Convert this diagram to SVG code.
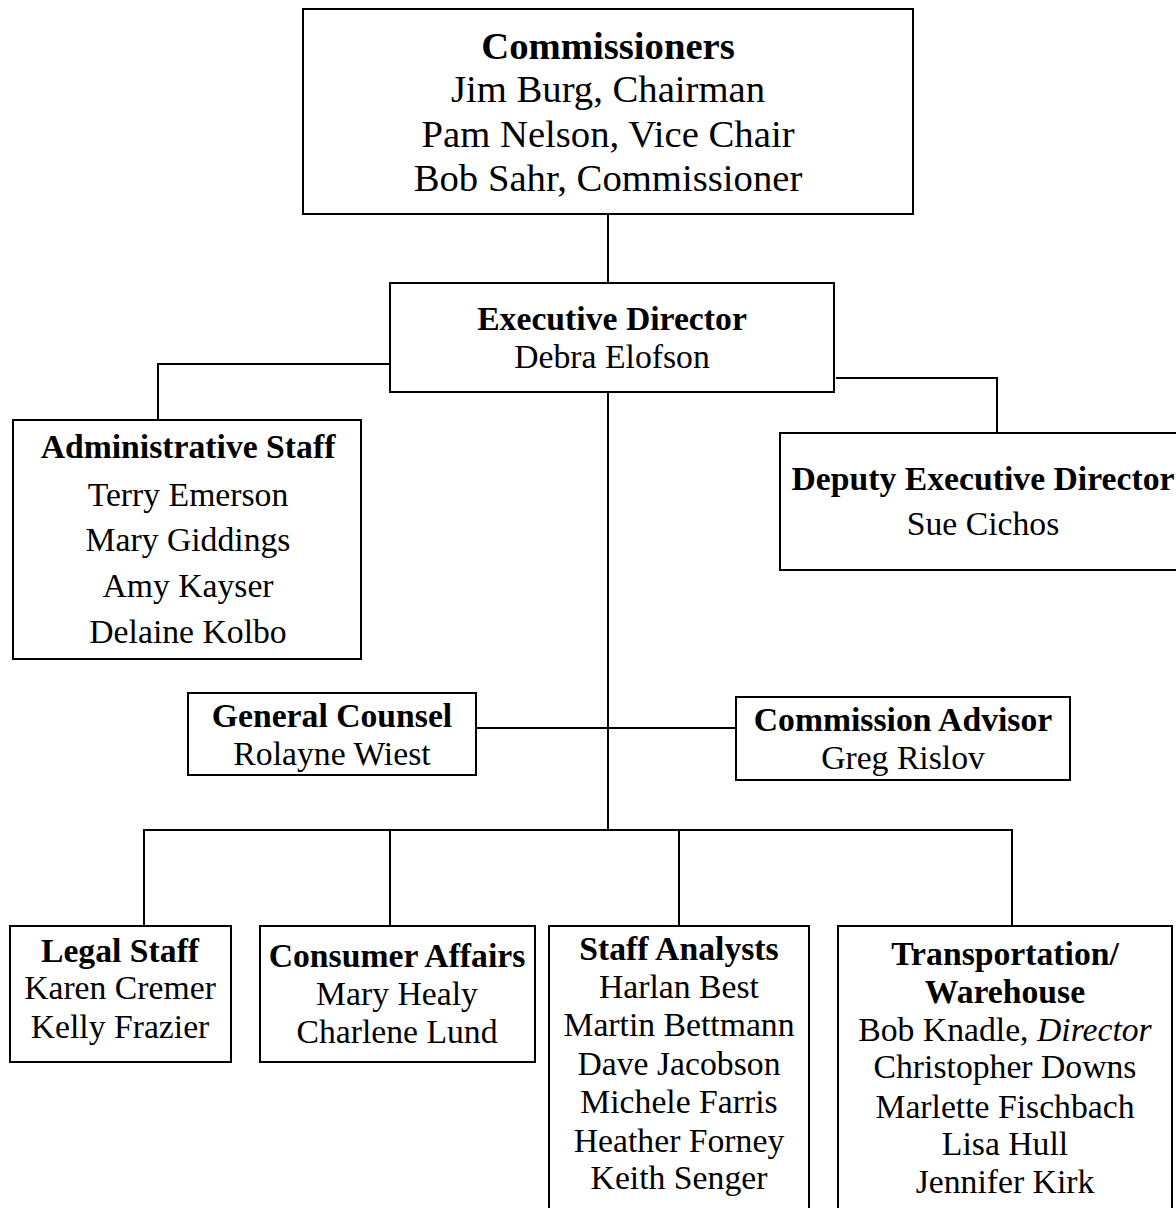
<svg xmlns="http://www.w3.org/2000/svg" width="1176" height="1208" viewBox="0 0 1176 1208">
<style>
.box{fill:#fff;stroke:#000;stroke-width:2}
.ln{fill:none;stroke:#000;stroke-width:2}
text{font-family:"Liberation Serif","Times New Roman",serif;font-size:33.7px;fill:#000;text-anchor:middle}
.b{font-weight:bold}
.big{font-size:38.7px}
</style>
<rect width="1176" height="1208" fill="#fff"/>
<g id="connectors">
<path class="ln" d="M608 214V283"/>
<path class="ln" d="M390 364H158V420"/>
<path class="ln" d="M836 378H997V433"/>
<path class="ln" d="M608 392V830"/>
<path class="ln" d="M476 728H736"/>
<path class="ln" d="M144 926V830H1012V926"/>
<path class="ln" d="M390 830V926"/>
<path class="ln" d="M679 830V926"/>
</g>
<g id="commissioners">
<rect class="box" x="303" y="9" width="610" height="205"/>
<text class="b big" x="608" y="59">Commissioners</text>
<text class="big" x="608" y="102">Jim Burg, Chairman</text>
<text class="big" x="608" y="147">Pam Nelson, Vice Chair</text>
<text class="big" x="608" y="191">Bob Sahr, Commissioner</text>
</g>
<g id="executive-director">
<rect class="box" x="390" y="283" width="444" height="109"/>
<text class="b" x="612" y="330">Executive Director</text>
<text x="612" y="368">Debra Elofson</text>
</g>
<g id="administrative-staff">
<rect class="box" x="13" y="420" width="348" height="239"/>
<text class="b" x="188" y="458">Administrative Staff</text>
<text x="188" y="506">Terry Emerson</text>
<text x="188" y="551">Mary Giddings</text>
<text x="188" y="597">Amy Kayser</text>
<text x="188" y="643">Delaine Kolbo</text>
</g>
<g id="deputy-executive-director">
<rect class="box" x="780" y="433" width="410" height="137"/>
<text class="b" x="983" y="490">Deputy Executive Director</text>
<text x="983" y="535">Sue Cichos</text>
</g>
<g id="general-counsel">
<rect class="box" x="188" y="693" width="288" height="82"/>
<text class="b" x="332" y="727">General Counsel</text>
<text x="332" y="765">Rolayne Wiest</text>
</g>
<g id="commission-advisor">
<rect class="box" x="736" y="697" width="334" height="83"/>
<text class="b" x="903" y="731">Commission Advisor</text>
<text x="903" y="769">Greg Rislov</text>
</g>
<g id="legal-staff">
<rect class="box" x="10" y="926" width="221" height="136"/>
<text class="b" x="120" y="962">Legal Staff</text>
<text x="120" y="999">Karen Cremer</text>
<text x="120" y="1038">Kelly Frazier</text>
</g>
<g id="consumer-affairs">
<rect class="box" x="260" y="926" width="275" height="136"/>
<text class="b" x="397" y="967">Consumer Affairs</text>
<text x="397" y="1005">Mary Healy</text>
<text x="397" y="1043">Charlene Lund</text>
</g>
<g id="staff-analysts">
<rect class="box" x="549" y="926" width="260" height="300"/>
<text class="b" x="679" y="960">Staff Analysts</text>
<text x="679" y="998">Harlan Best</text>
<text x="679" y="1036">Martin Bettmann</text>
<text x="679" y="1075">Dave Jacobson</text>
<text x="679" y="1113">Michele Farris</text>
<text x="679" y="1152">Heather Forney</text>
<text x="679" y="1189">Keith Senger</text>
</g>
<g id="transportation-warehouse">
<rect class="box" x="838" y="926" width="334" height="300"/>
<text class="b" x="1005" y="965">Transportation/</text>
<text class="b" x="1005" y="1003">Warehouse</text>
<text x="1005" y="1041">Bob Knadle, <tspan font-style="italic">Director</tspan></text>
<text x="1005" y="1078">Christopher Downs</text>
<text x="1005" y="1118">Marlette Fischbach</text>
<text x="1005" y="1155">Lisa Hull</text>
<text x="1005" y="1193">Jennifer Kirk</text>
</g>
</svg>
